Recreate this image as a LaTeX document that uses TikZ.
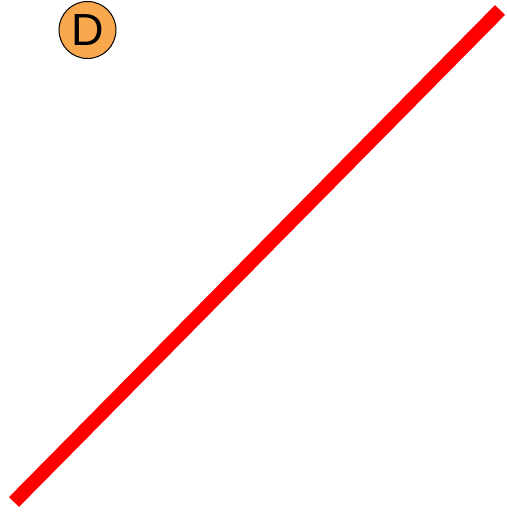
\documentclass[tikz,border=0pt]{standalone}
\usepackage{fontspec}
\setsansfont{Liberation Sans}
\definecolor{badgefill}{HTML}{F9A84E}
\definecolor{slash}{HTML}{FF0000}
\newcommand{\PicW}{506}
\newcommand{\PicH}{513}

\begin{document}
\begin{tikzpicture}[x=1pt, y=1pt,
    badge/.style={circle, draw=black, line width=1pt, fill=badgefill, minimum size=57pt, inner sep=0pt, font=\sffamily\fontsize{45}{45}\selectfont},
    diag/.style={draw=slash, line width=14pt},
  ]
\useasboundingbox (0,0) rectangle (\PicW,\PicH);

% --- The badge ---------------------------------------------------------------
\node[badge] (d) at (87.5, 483) {D};

% --- The red stroke ----------------------------------------------------------
\coordinate (lo) at (14, 11);
\coordinate (hi) at (500, 503);
\draw[diag] (lo) -- (hi);

\end{tikzpicture}
\end{document}
